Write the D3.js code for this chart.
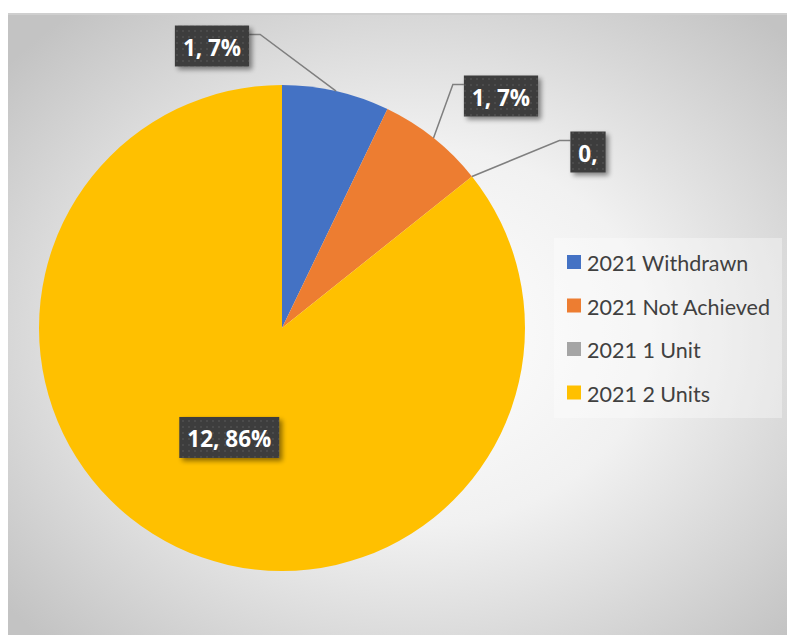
<!DOCTYPE html>
<html>
<head>
<meta charset="utf-8">
<script src="https://cdn.jsdelivr.net/npm/d3@7"></script>
<style>
  html, body { margin: 0; padding: 0; background: #ffffff; }
  svg { display: block; }
</style>
</head>
<body>
<svg id="chart" width="787" height="635"></svg>
<script>
// Series: unit outcomes for 2021
const categories = ["2021 Withdrawn", "2021 Not Achieved", "2021 1 Unit", "2021 2 Units"];
const values = [1, 1, 0, 12];
const colors = ["#4472c4", "#ed7d31", "#a5a5a5", "#ffc000"];

// Placement of each data label relative to the pie centre (px); null = inside slice
const labelOffsets = [
  { dx: -70, dy: -282, side: "right" },
  { dx: 219, dy: -232, side: "left" },
  { dx: 306, dy: -176, side: "left" },
  null
];

const W = 787, H = 635;
const svg = d3.select("#chart");
const defs = svg.append("defs");

// Chart-area background: soft radial gradient
const bg = defs.append("radialGradient").attr("id", "bgGrad")
  .attr("cx", "52%").attr("cy", "52%").attr("r", "68%");
bg.append("stop").attr("offset", "0%").attr("stop-color", "#ffffff");
bg.append("stop").attr("offset", "45%").attr("stop-color", "#f1f1f1");
bg.append("stop").attr("offset", "100%").attr("stop-color", "#c3c3c3");

// Dotted dark fill for data label boxes
const pat = defs.append("pattern").attr("id", "dots")
  .attr("patternUnits", "userSpaceOnUse").attr("width", 6).attr("height", 6);
pat.append("rect").attr("width", 6).attr("height", 6).attr("fill", "#3e3e3e");
pat.append("rect").attr("x", 2).attr("y", 2).attr("width", 2).attr("height", 2).attr("fill", "#4b4b4b");

// Drop shadow for label boxes
const sh = defs.append("filter").attr("id", "shadow")
  .attr("x", "-20%").attr("y", "-20%").attr("width", "150%").attr("height", "160%");
sh.append("feGaussianBlur").attr("in", "SourceAlpha").attr("stdDeviation", 2.5).attr("result", "b");
sh.append("feOffset").attr("in", "b").attr("dx", 3).attr("dy", 3).attr("result", "o");
sh.append("feComponentTransfer").attr("in", "o").attr("result", "o2")
  .append("feFuncA").attr("type", "linear").attr("slope", 0.45);
const m = sh.append("feMerge");
m.append("feMergeNode").attr("in", "o2");
m.append("feMergeNode").attr("in", "SourceGraphic");

// Chart area
svg.append("rect").attr("x", 8).attr("y", 13).attr("width", W - 8).attr("height", H - 13)
  .attr("fill", "url(#bgGrad)");
svg.append("line").attr("x1", 8).attr("x2", W).attr("y1", 14).attr("y2", 14)
  .attr("stroke", "#cfcfcf").attr("stroke-width", 2);

// Pie
const cx = 282, cy = 328, R = 243;
const total = d3.sum(values);
const pie = d3.pie().sort(null).value(d => d.value);
const arcs = pie(categories.map((c, i) => ({ cat: c, value: values[i], i })));
const arc = d3.arc().innerRadius(0).outerRadius(R);

const g = svg.append("g").attr("transform", `translate(${cx},${cy})`);
g.selectAll("path.slice").data(arcs).enter().append("path")
  .attr("class", "slice")
  .attr("d", arc)
  .attr("fill", d => colors[d.data.i]);

// Data labels "value, percent"
const fmtPct = v => v === 0 ? "" : Math.round(v / total * 100) + "%";
const labelText = d => `${d.data.value}, ${fmtPct(d.data.value)}`;

const labelG = g.append("g");
arcs.forEach(d => {
  const off = labelOffsets[d.data.i];
  const text = labelText(d);
  const mid = (d.startAngle + d.endAngle) / 2;
  let lx, ly;
  if (off) {
    lx = off.dx; ly = off.dy;
  } else {
    lx = Math.sin(mid) * R * 0.5;
    ly = -Math.cos(mid) * R * 0.5;
  }
  const t = labelG.append("text")
    .attr("x", lx).attr("y", ly + 1)
    .attr("text-anchor", "middle").attr("dominant-baseline", "central")
    .attr("font-family", "'Open Sans', Lato, sans-serif")
    .attr("font-weight", "bold").attr("font-size", 22.5)
    .attr("fill", "#ffffff")
    .text(text);
  const bb = t.node().getBBox();
  const padX = 8, boxH = 41;
  const bw = bb.width + padX * 2;
  const bx = lx - bw / 2, by = ly - boxH / 2;

  if (off) {
    // leader line from the slice's outer edge to the label box
    const anchorAngle = d.data.value === 0 ? d.startAngle : mid;
    const ax = Math.sin(anchorAngle) * R, ay = -Math.cos(anchorAngle) * R;
    const ex = off.side === "right" ? bx + bw : bx;
    const ey = by + 9;
    const kx = off.side === "right" ? ex + 11 : ex - 11;
    labelG.insert("path", "text")
      .attr("d", `M${ax},${ay}L${kx},${ey}L${ex},${ey}`)
      .attr("fill", "none").attr("stroke", "#7f7f7f").attr("stroke-width", 1.5);
  }
  labelG.insert("rect", "text")
    .attr("x", bx).attr("y", by).attr("width", bw).attr("height", boxH)
    .attr("fill", "url(#dots)").attr("filter", "url(#shadow)");
});

// Legend
const legend = svg.append("g");
legend.append("rect").attr("x", 554).attr("y", 238).attr("width", 228).attr("height", 180)
  .attr("fill", "#ffffff").attr("fill-opacity", 0.35);
const ly0 = 262, lStep = 43.5;
categories.forEach((c, i) => {
  const y = ly0 + i * lStep;
  legend.append("rect").attr("x", 567).attr("y", y - 7).attr("width", 14).attr("height", 14)
    .attr("fill", colors[i]);
  legend.append("text").attr("x", 587).attr("y", y + 1)
    .attr("dominant-baseline", "central")
    .attr("font-family", "Lato, 'Open Sans', sans-serif")
    .attr("font-size", 21.5).attr("fill", "#404040")
    .text(c);
});
</script>
</body>
</html>
